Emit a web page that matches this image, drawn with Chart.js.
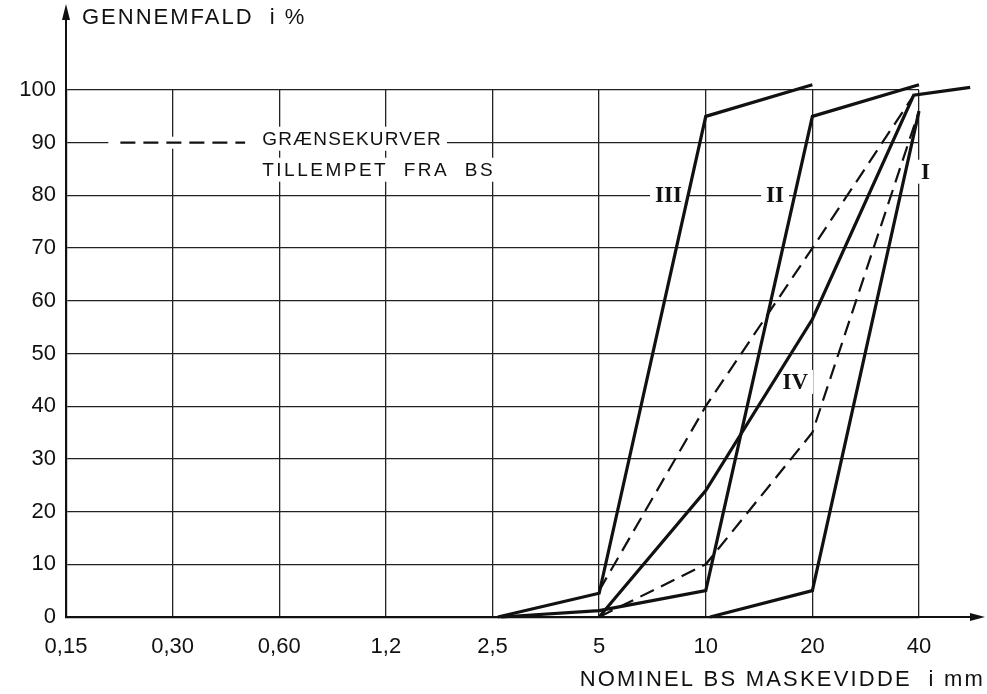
<!DOCTYPE html>
<html>
<head>
<meta charset="utf-8">
<script src="https://cdn.jsdelivr.net/npm/chart.js@4/dist/chart.umd.min.js"></script>
<style>
  html, body { margin: 0; padding: 0; background: #fff; }
  #wrap { width: 987px; height: 694px; position: relative; }
</style>
</head>
<body>
<div id="wrap"><canvas id="c" width="987" height="694"></canvas></div>
<script>
// Sieve sizes (mm), evenly spaced on a doubling scale: position i on the axis
const sieveLabels = ['0,15', '0,30', '0,60', '1,2', '2,5', '5', '10', '20', '40'];
const passTicks = [0, 10, 20, 30, 40, 50, 60, 70, 80, 90, 100];

// Grading curves: sieve position (index into sieveLabels) and % passing
const posI   = [6.04, 7, 8, 8.48];
const passI  = [0, 5, 96, 98.5];

const posII  = [4.08, 5, 6, 7, 8];
const passII = [0, 1.2, 5, 95, 101];

const posIII  = [4.05, 5, 6, 7];
const passIII = [0, 4.5, 95, 101];

const posIV  = [5, 6, 7, 7.95, 8.48];
const passIV = [0, 24, 56.5, 99, 100.5];

// Limit curves (dashed)
const posUpper  = [5, 6, 7, 7.95];
const passUpper = [5, 40, 70, 99];
const posLower  = [5, 6, 7, 8];
const passLower = [0, 10, 35, 96];

// Curve labels: text, sieve position, % passing
const curveLabels = [
  ['III', 5.65, 80],
  ['II', 6.65, 80],
  ['I', 8.06, 84.5],
  ['IV', 6.84, 44.6]
];

const FONT = "'Liberation Sans', 'DejaVu Sans', sans-serif";

function pts(xs, ys) { return xs.map((x, k) => ({ x: x, y: ys[k] })); }

function solid(xs, ys) {
  return { data: pts(xs, ys), borderColor: '#111', borderWidth: 3.2, pointRadius: 0,
           fill: false, tension: 0, clip: false };
}
function dashed(xs, ys) {
  return { data: pts(xs, ys), borderColor: '#111', borderWidth: 2.2, borderDash: [15, 8],
           pointRadius: 0, fill: false, tension: 0, clip: false };
}

function boxedText(ctx, text, x, y, align) {
  const w = ctx.measureText(text).width;
  const left = align === 'center' ? x - w / 2 : x;
  ctx.fillStyle = '#fff';
  ctx.fillRect(left - 5, y - 12, w + 10, 24);
  ctx.fillStyle = '#111';
  ctx.fillText(text, x, y + 1);
}

const decorations = {
  id: 'decorations',
  beforeDatasetsDraw(chart) {
    const { ctx, scales: { x, y } } = chart;
    ctx.save();
    // legend for the limit curves
    const lx0 = x.getPixelForValue(0.51), lx1 = x.getPixelForValue(1.68);
    const ly = y.getPixelForValue(90);
    const tx = x.getPixelForValue(1.84);
    ctx.fillStyle = '#fff';
    ctx.fillRect(lx0 - 12, ly - 6, tx - lx0 + 12, 12);
    ctx.strokeStyle = '#111';
    ctx.lineWidth = 2.2;
    ctx.setLineDash([15, 8]);
    ctx.beginPath(); ctx.moveTo(lx0, ly); ctx.lineTo(lx1, ly); ctx.stroke();
    ctx.setLineDash([]);
    ctx.font = '19px ' + FONT;
    ctx.textAlign = 'left';
    ctx.textBaseline = 'middle';
    ctx.letterSpacing = '1.2px';
    boxedText(ctx, 'GRÆNSEKURVER', tx, ly - 4, 'left');
    ctx.letterSpacing = '2.5px';
    boxedText(ctx, 'TILLEMPET  FRA  BS', tx, ly + 27, 'left');

    // Roman numeral curve labels
    ctx.letterSpacing = '0px';
    ctx.font = 'bold 23px "Liberation Serif", "DejaVu Serif", serif';
    ctx.textAlign = 'center';
    for (const [t, px, py] of curveLabels) {
      boxedText(ctx, t, x.getPixelForValue(px), y.getPixelForValue(py), 'center');
    }
    ctx.restore();
  },
  afterDraw(chart) {
    const { ctx, chartArea: a } = chart;
    ctx.save();
    ctx.strokeStyle = '#111';
    ctx.fillStyle = '#111';
    ctx.lineWidth = 2;
    // y axis extended upwards with arrow
    ctx.beginPath(); ctx.moveTo(a.left, a.top); ctx.lineTo(a.left, 14); ctx.stroke();
    ctx.beginPath(); ctx.moveTo(a.left, 4); ctx.lineTo(a.left - 4, 20); ctx.lineTo(a.left + 4, 20); ctx.closePath(); ctx.fill();
    // x axis extended to the right with arrow
    ctx.beginPath(); ctx.moveTo(a.right, a.bottom); ctx.lineTo(975, a.bottom); ctx.stroke();
    ctx.beginPath(); ctx.moveTo(985, a.bottom); ctx.lineTo(970, a.bottom - 4); ctx.lineTo(970, a.bottom + 4); ctx.closePath(); ctx.fill();
    // axis titles
    ctx.font = '22px ' + FONT;
    ctx.letterSpacing = '2px';
    ctx.textBaseline = 'middle';
    ctx.textAlign = 'left';
    ctx.fillText('GENNEMFALD  i %', 82, 18);
    ctx.textAlign = 'right';
    ctx.letterSpacing = '2.2px';
    ctx.fillText('NOMINEL BS MASKEVIDDE  i mm', 985, 680);
    ctx.restore();
  }
};

new Chart(document.getElementById('c'), {
  type: 'line',
  data: {
    datasets: [
      solid(posIII, passIII),
      solid(posII, passII),
      solid(posI, passI),
      solid(posIV, passIV),
      dashed(posUpper, passUpper),
      dashed(posLower, passLower)
    ]
  },
  options: {
    responsive: false,
    animation: false,
    events: [],
    layout: { padding: { left: 0, top: 90, right: 68, bottom: 0 } },
    plugins: { legend: { display: false }, tooltip: { enabled: false }, title: { display: false } },
    scales: {
      x: {
        type: 'linear', min: 0, max: sieveLabels.length - 1,
        afterFit(s) { s.height = 77; },
        afterBuildTicks(s) { s.ticks = sieveLabels.map((_, i) => ({ value: i })); },
        ticks: {
          callback: (v) => sieveLabels[v],
          color: '#111', font: { family: FONT, size: 22 }, padding: 17, maxRotation: 0, autoSkip: false
        },
        grid: { color: '#222', lineWidth: 1.3, drawTicks: false },
        border: { color: '#111', width: 2.2 }
      },
      y: {
        type: 'linear', min: 0, max: 100,
        afterFit(s) { s.width = 66; },
        afterBuildTicks(s) { s.ticks = passTicks.map(v => ({ value: v })); },
        ticks: {
          color: '#111', font: { family: FONT, size: 22 }, padding: 10
        },
        grid: { color: '#222', lineWidth: 1.3, drawTicks: false },
        border: { color: '#111', width: 2.2 }
      }
    }
  },
  plugins: [decorations]
});
</script>
</body>
</html>
